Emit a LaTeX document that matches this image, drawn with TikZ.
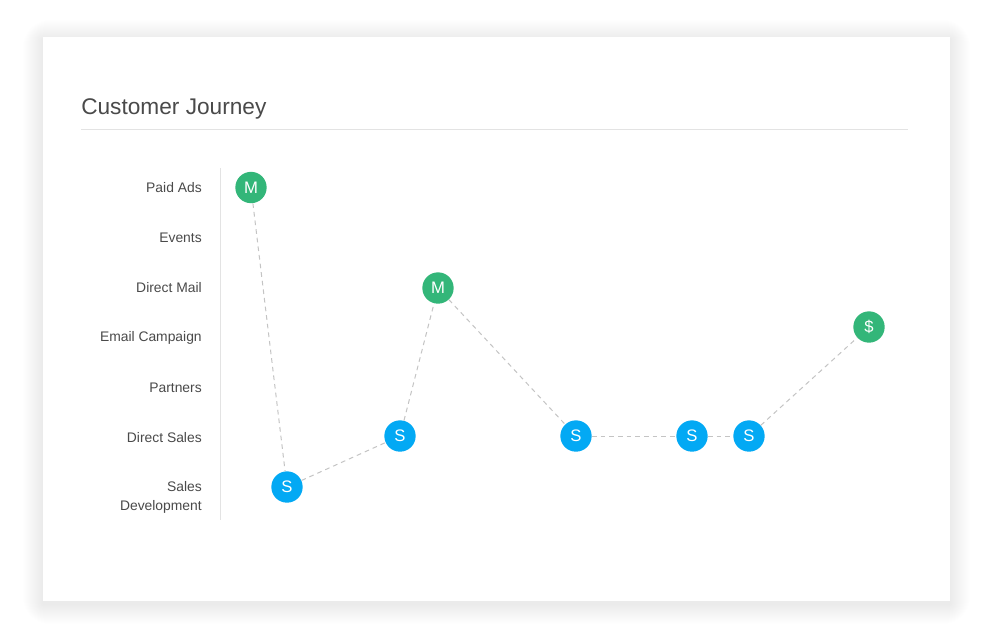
\documentclass[tikz,border=0pt]{standalone}
\usepackage{fontspec}
\setmainfont{Liberation Sans}
\definecolor{cgreen}{HTML}{33B679}
\definecolor{cblue}{HTML}{03A9F4}
\definecolor{ctext}{HTML}{4A4A4A}
\definecolor{crule}{HTML}{E3E3E3}
\definecolor{cdash}{HTML}{C4C4C4}
\tikzset{
  touch/.style={circle, minimum size=23.5pt, inner sep=0pt, text=white, font=\fontsize{12.5}{13}\selectfont},
  mk/.style={touch, fill=cgreen},
  sl/.style={touch, fill=cblue},
  chan/.style={anchor=east, align=right, inner sep=0pt, text=ctext, font=\fontsize{10.4}{14.3}\selectfont},
  path/.style={draw=cdash, line width=0.75pt, dash pattern=on 3.5pt off 3pt},
}
\begin{document}
\begin{tikzpicture}[x=0.75pt, y=-0.75pt]
\useasboundingbox (0,0) rectangle (992,637);
% shadow
\foreach \i in {1,2,...,20}{
  \fill[black, opacity=0.0025, rounded corners=\i pt] (43-\i,37-\i+3) rectangle (950+\i,601+\i+3);
}
\fill[white] (43,37) rectangle (950,601);
% title
\node[anchor=base west, inner sep=0pt, text=ctext, font=\fontsize{17}{18}\selectfont] (title) at (81,114) {Customer Journey};
\coordinate (rl) at (81,129);
\coordinate (rr) at (908,129);
\draw[crule, line width=0.75pt] (rl) -- (rr);
% axis
\coordinate (at) at (220,168);
\coordinate (ab) at (220,520);
\draw[crule, line width=0.75pt] (at) -- (ab);
% channel labels
\node[chan] (l1) at (202,187.5) {Paid Ads};
\node[chan] (l2) at (202,237.5) {Events};
\node[chan] (l3) at (202,287.5) {Direct Mail};
\node[chan] (l4) at (202,337.5) {Email Campaign};
\node[chan] (l5) at (202,387.5) {Partners};
\node[chan] (l6) at (202,437.5) {Direct Sales};
\node[chan] (l7) at (202,497) {Sales\\Development};
% touchpoints
\node[mk] (n1) at (251,187.5) {M};
\node[sl] (n2) at (287,487) {S};
\node[sl] (n3) at (400,436) {S};
\node[mk] (n4) at (438,288) {M};
\node[sl] (n5) at (576,436) {S};
\node[sl] (n6) at (692,436) {S};
\node[sl] (n7) at (749,436) {S};
\node[mk] (n8) at (869,327) {\$};
% journey
\draw[path] (n1) -- (n2);
\draw[path] (n2) -- (n3);
\draw[path] (n3) -- (n4);
\draw[path] (n4) -- (n5);
\draw[path] (n5) -- (n6);
\draw[path] (n6) -- (n7);
\draw[path] (n7) -- (n8);
\end{tikzpicture}
\end{document}
